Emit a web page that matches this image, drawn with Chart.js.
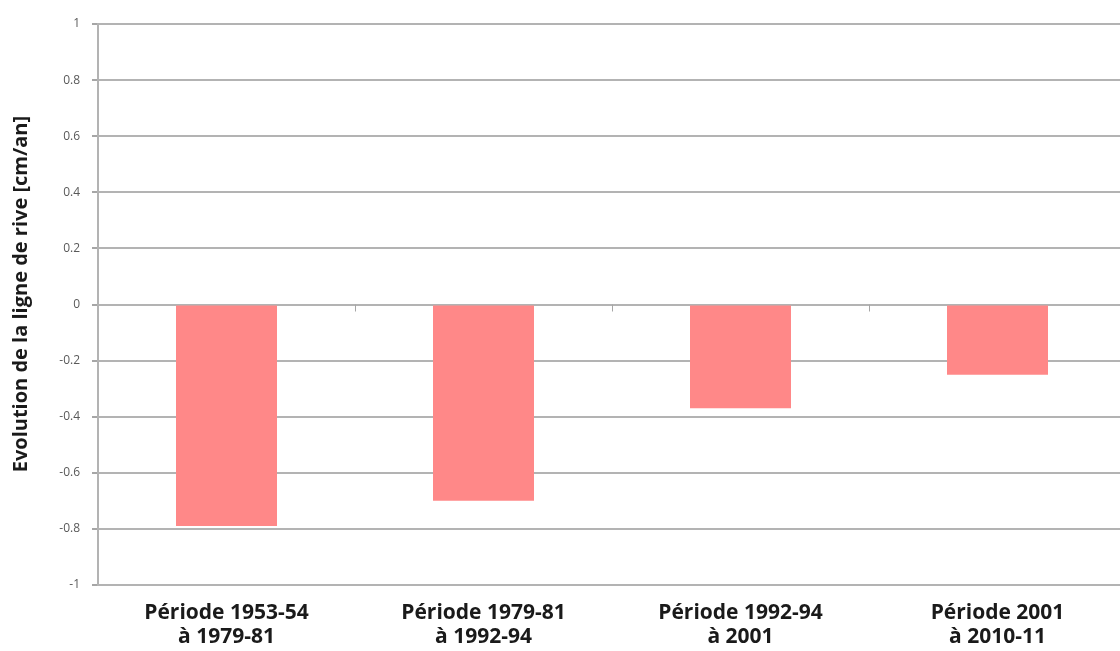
<!DOCTYPE html>
<html>
<head>
<meta charset="utf-8">
<script src="https://cdn.jsdelivr.net/npm/chart.js@4"></script>
<style>
  html, body { margin: 0; padding: 0; background: #fff; overflow: hidden; }
  #wrap { width: 1126px; height: 651px; }
</style>
</head>
<body>
<div id="wrap"><canvas id="rive"></canvas></div>
<script>
// Periods and shoreline change values (cm/an)
const periodes = [
    ['Période 1953-54', 'à 1979-81'],
    ['Période 1979-81', 'à 1992-94'],
    ['Période 1992-94', 'à 2001'],
    ['Période 2001', 'à 2010-11']
];
const evolution = [-0.79, -0.70, -0.37, -0.25];
const yTickValues = [-1, -0.8, -0.6, -0.4, -0.2, 0, 0.2, 0.4, 0.6, 0.8, 1];
const yTickLabels = ['-1', '-0.8', '-0.6', '-0.4', '-0.2', '0', '0.2', '0.4', '0.6', '0.8', '1'];

// small tick marks on the zero line between categories (Excel style)
const zeroTicks = {
    id: 'zeroTicks',
    afterDatasetsDraw(chart) {
        const x = chart.scales.x;
        const y0 = chart.scales.y.getPixelForValue(0);
        const ctx = chart.ctx;
        ctx.save();
        ctx.strokeStyle = '#a6a6a6';
        ctx.lineWidth = 1;
        for (let i = 1; i < periodes.length; i++) {
            const px = Math.round((x.getPixelForValue(i - 1) + x.getPixelForValue(i)) / 2) + 0.5;
            ctx.beginPath();
            ctx.moveTo(px, y0);
            ctx.lineTo(px, y0 + 7);
            ctx.stroke();
        }
        ctx.restore();
    }
};

const ctx = document.getElementById('rive');
new Chart(ctx, {
    type: 'bar',
    data: {
        labels: periodes,
        datasets: [{
            data: evolution,
            backgroundColor: '#ff8888',
            borderWidth: 0,
            categoryPercentage: 1,
            barPercentage: 0.393
        }]
    },
    options: {
        responsive: true,
        maintainAspectRatio: false,
        animation: false,
        layout: { padding: { top: 24, right: 0, bottom: 0, left: 0 } },
        plugins: {
            legend: { display: false },
            tooltip: { enabled: false }
        },
        scales: {
            x: {
                grid: { display: false, drawTicks: false },
                border: { display: true, color: '#b3b3b3', width: 2 },
                ticks: {
                    padding: 16,
                    color: '#1a1a1a',
                    font: { family: 'Open Sans', size: 21, weight: 'bold', lineHeight: 1.15 },
                    maxRotation: 0
                },
                afterFit(scale) { scale.height = 66; }
            },
            y: {
                min: -1,
                max: 1,
                afterBuildTicks(scale) {
                    scale.ticks = yTickValues.map(v => ({ value: v }));
                },
                grid: {
                    color: '#b3b3b3',
                    lineWidth: 2,
                    tickLength: 6,
                    tickColor: '#a6a6a6'
                },
                border: { display: true, color: '#b3b3b3', width: 2 },
                ticks: {
                    padding: 12,
                    color: '#595959',
                    font: { family: 'Open Sans', size: 12 },
                    callback: (value, index) => yTickLabels[index]
                },
                title: {
                    display: true,
                    // leading spaces nudge the title up a little, like the original
                    text: '\u00a0\u00a0\u00a0\u00a0Evolution de la ligne de rive [cm/an]',
                    color: '#1a1a1a',
                    font: { family: 'Open Sans', size: 20, weight: 'bold' },
                    padding: { top: 9, bottom: 0 }
                },
                afterFit(scale) { scale.width = 98; }
            }
        }
    },
    plugins: [zeroTicks]
});
</script>
</body>
</html>
